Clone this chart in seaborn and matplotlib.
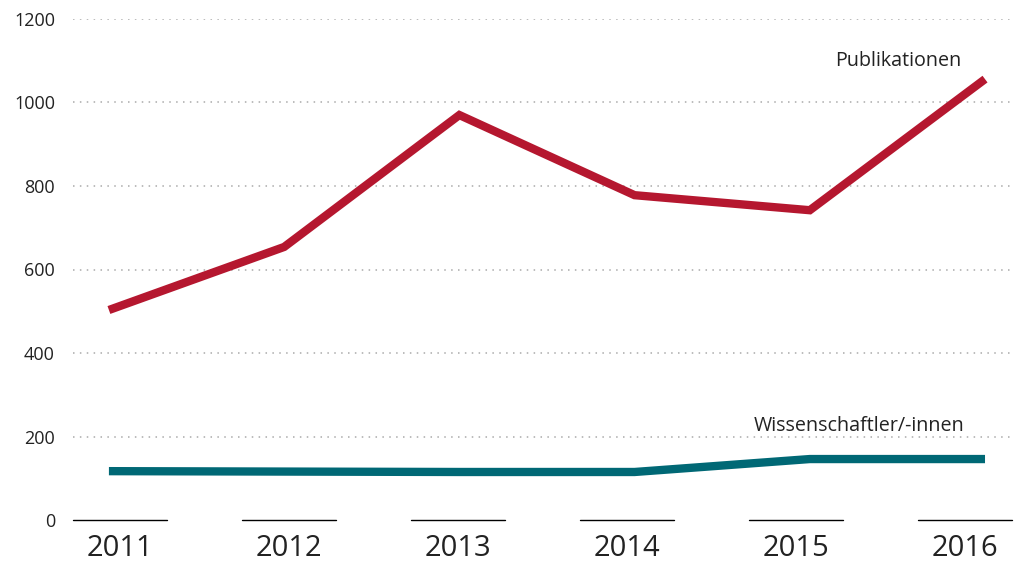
import numpy as np
import pandas as pd
import matplotlib
matplotlib.use("Agg")
import matplotlib.pyplot as plt
import seaborn as sns

# data
years = ["2011", "2012", "2013", "2014", "2015", "2016"]
publikationen = [503, 654, 970, 778, 742, 1056]
wissenschaftler = [117, 116, 115, 115, 146, 146]
y_ticks = [0, 200, 400, 600, 800, 1000, 1200]

red = "#B5172F"
teal = "#006875"
txt = "#222222"

sns.set_style("white")
plt.rcParams["font.family"] = ["Open Sans", "DejaVu Sans"]

df = pd.DataFrame({
    "pos": np.arange(len(years)),
    "Publikationen": publikationen,
    "Wissenschaftler/-innen": wissenschaftler,
})

fig = plt.figure(figsize=(10.18, 5.62), dpi=100)
ax = fig.add_axes([73 / 1018, 42 / 562, 939 / 1018, 501 / 562])

# year axis: short black segments under each label
ax.set_xlim(-0.278, len(years) - 1 + 0.278)
ax.set_ylim(0, 1200)
for i in range(len(years)):
    ax.plot([i - 0.28, i + 0.28], [0, 0], color="black", lw=1.0, clip_on=False)
ax.set_xticks(range(len(years)))
ax.set_xticklabels(years, fontsize=21, color=txt)
ax.tick_params(axis="x", length=0, pad=10)

# dotted gridlines
for v in y_ticks[1:]:
    ax.axhline(v, color="#aaaaaa", lw=1.1, ls=(0, (1, 3.5)), zorder=0)
ax.set_yticks(y_ticks)
ax.set_yticklabels([str(v) for v in y_ticks], fontsize=13, color=txt)
ax.tick_params(axis="y", length=0, pad=13)
for s in ax.spines.values():
    s.set_visible(False)

# lines on a twin x scale
ax2 = ax.twiny()
ax2.set_xlim(-0.205, len(years) - 1 + 0.154)
ax2.set_ylim(0, 1200)
sns.lineplot(data=df, x="pos", y="Publikationen", ax=ax2, color=red, lw=6,
             solid_capstyle="butt", solid_joinstyle="miter")
sns.lineplot(data=df, x="pos", y="Wissenschaftler/-innen", ax=ax2, color=teal, lw=6,
             solid_capstyle="butt", solid_joinstyle="miter")
ax2.set_xticks([])
ax2.set_xlabel("")
ax2.set_ylabel("")
ax.set_ylabel("")
ax.set_xlabel("")
for s in ax2.spines.values():
    s.set_visible(False)

last = len(years) - 1
ax2.annotate("Publikationen", (last, publikationen[-1]), xytext=(-17, 13),
             textcoords="offset points", ha="right", va="center",
             fontsize=14.2, color=txt)
ax2.annotate("Wissenschaftler/-innen", (last, wissenschaftler[-1]), xytext=(-15, 23.5),
             textcoords="offset points", ha="right", va="center",
             fontsize=14.2, color=txt)

fig.savefig("out.png", dpi=100)
